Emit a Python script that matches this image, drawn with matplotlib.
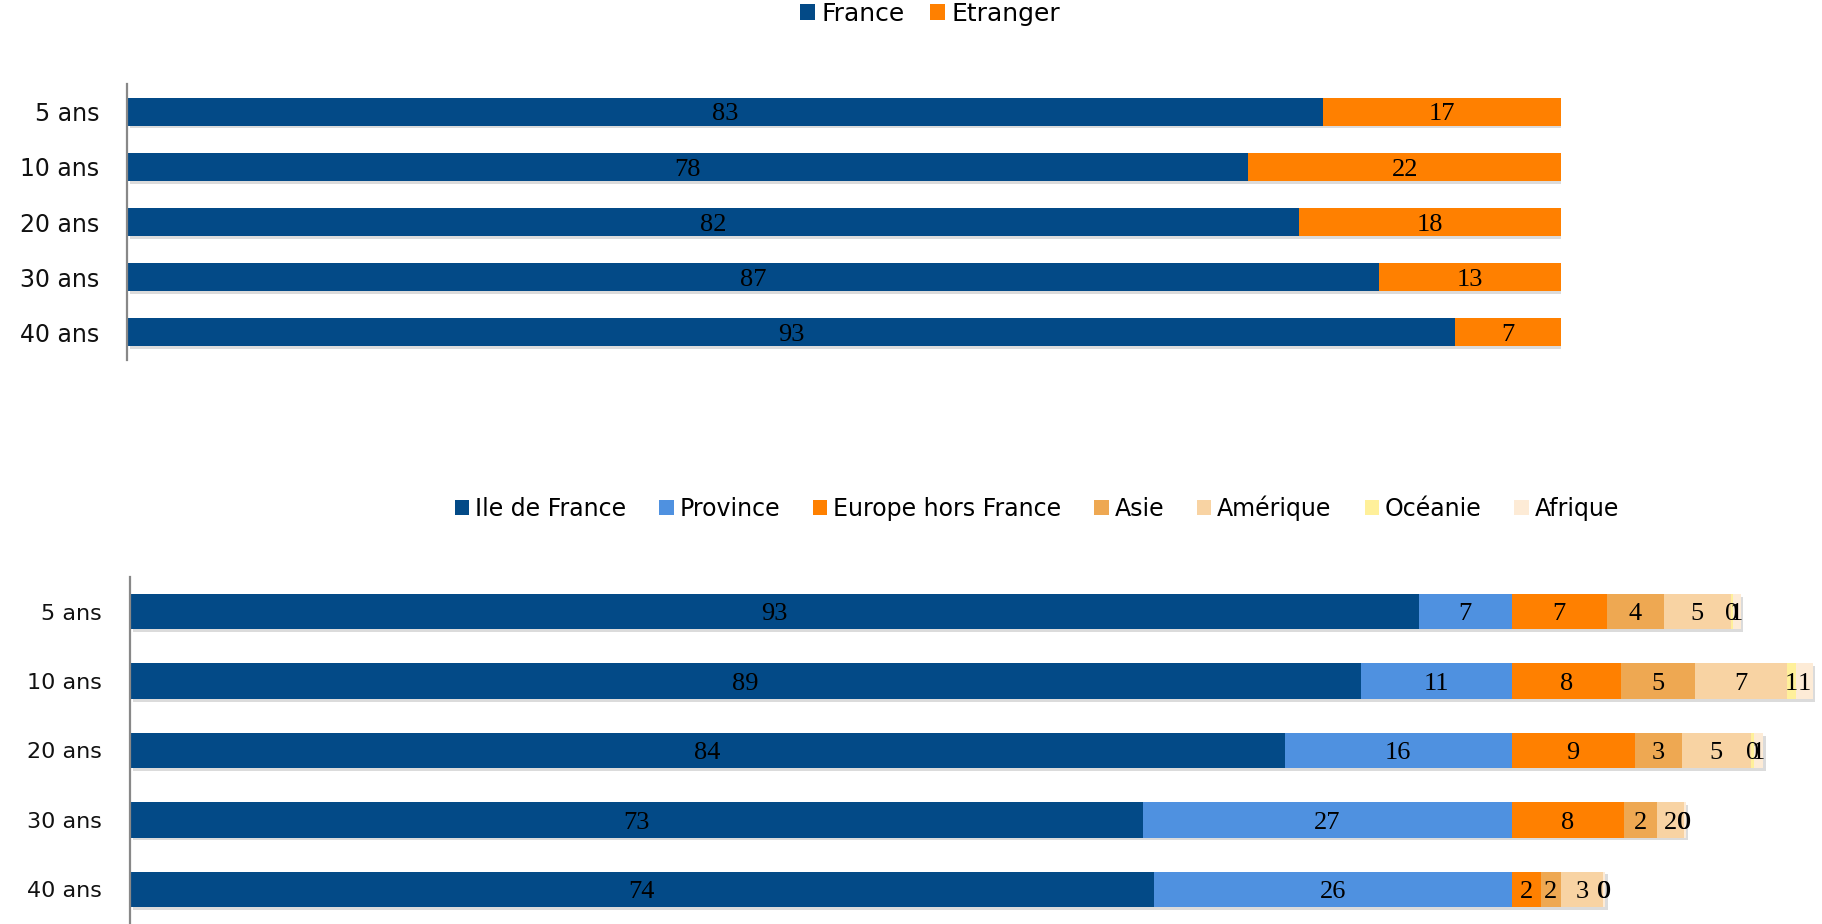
import matplotlib
matplotlib.use("Agg")
import matplotlib.pyplot as plt
import matplotlib.patheffects as pe
import numpy as np

categories = ["5 ans", "10 ans", "20 ans", "30 ans", "40 ans"]

# Top chart
france = [83.4, 78.2, 81.7, 87.3, 92.6]
etranger = [16.6, 21.8, 18.3, 12.7, 7.4]

# Bottom chart
ile_de_france = [93.3, 89.1, 83.6, 73.3, 74.1]
province = [6.7, 10.9, 16.4, 26.7, 25.9]
europe = [6.9, 7.9, 8.9, 8.15, 2.1]
asie = [4.1, 5.4, 3.4, 2.4, 1.5]
amerique = [4.85, 6.65, 5.0, 1.9, 3.0]
oceanie = [0.17, 0.6, 0.24, 0.05, 0.05]
afrique = [0.55, 1.23, 0.68, 0.1, 0.1]

top_series = [("France", france, "#034A87"), ("Etranger", etranger, "#FF8000")]
bottom_series = [
    ("Ile de France", ile_de_france, "#034A87"),
    ("Province", province, "#4F91E0"),
    ("Europe hors France", europe, "#FF8000"),
    ("Asie", asie, "#EEA852"),
    ("Amérique", amerique, "#F8D3A3"),
    ("Océanie", oceanie, "#FFF09A"),
    ("Afrique", afrique, "#FDEBD6"),
]

W, H = 1822, 924
fig = plt.figure(figsize=(W / 100, H / 100), dpi=100)

tick_font = "DejaVu Sans"
label_font = "Liberation Serif"
shadow = [pe.SimplePatchShadow(offset=(2, -2), shadow_rgbFace="#999999", alpha=0.35), pe.Normal()]


def draw(ax, series, xlim, tick_size, label_size):
    y = np.arange(len(categories))
    left = np.zeros(len(categories))
    for name, vals, col in series:
        vals = np.array(vals, dtype=float)
        bars = ax.barh(y, vals, left=left, height=0.51, color=col, label=name,
                       edgecolor="none")
        for b in bars:
            b.set_path_effects(shadow)
        texts = ax.bar_label(bars, labels=[f"{v:.0f}" for v in vals], label_type="center",
                             fontsize=label_size, family=label_font, color="black")
        for t in texts:
            t.xyann = (0, -2)
        left += vals
    ax.set_xlim(*xlim)
    ax.set_ylim(len(categories) - 0.5, -0.5)
    ax.set_yticks(y)
    ax.set_yticklabels(categories, family=tick_font, fontsize=tick_size, color="#111111")
    ax.tick_params(axis="y", length=0, pad=20)
    ax.set_xticks([])
    for s in ["top", "right", "bottom"]:
        ax.spines[s].set_visible(False)
    ax.spines["left"].set_color("#888888")
    ax.spines["left"].set_linewidth(1.6)
    ax.patch.set_alpha(0)


def clean_legend(leg):
    for hdl in leg.legend_handles:
        hdl.set_path_effects([])


# top axes
ax1 = fig.add_axes([127 / W, 1 - 360 / H, 1434 / W, 276 / H])
draw(ax1, top_series, (0, 100), 17, 19)
h, l = ax1.get_legend_handles_labels()
leg1 = fig.legend(h, l, loc="center", bbox_to_anchor=(930 / W, 1 - 14 / H), ncol=2, frameon=False,
                  prop={"family": tick_font, "size": 18}, handlelength=0.6, handleheight=0.6,
                  handletextpad=0.25, columnspacing=1.0)
clean_legend(leg1)

# bottom axes
ax2 = fig.add_axes([130 / W, 0, 1692 / W, 347 / H])
draw(ax2, bottom_series, (0, 1692 / 13.816), 16, 19)
h, l = ax2.get_legend_handles_labels()
leg2 = fig.legend(h, l, loc="center", bbox_to_anchor=(1037 / W, 1 - 508 / H), ncol=7, frameon=False,
                  prop={"family": tick_font, "size": 17}, handlelength=0.6, handleheight=0.6,
                  handletextpad=0.25, columnspacing=1.4)
clean_legend(leg2)

fig.savefig("out.png", dpi=100)
